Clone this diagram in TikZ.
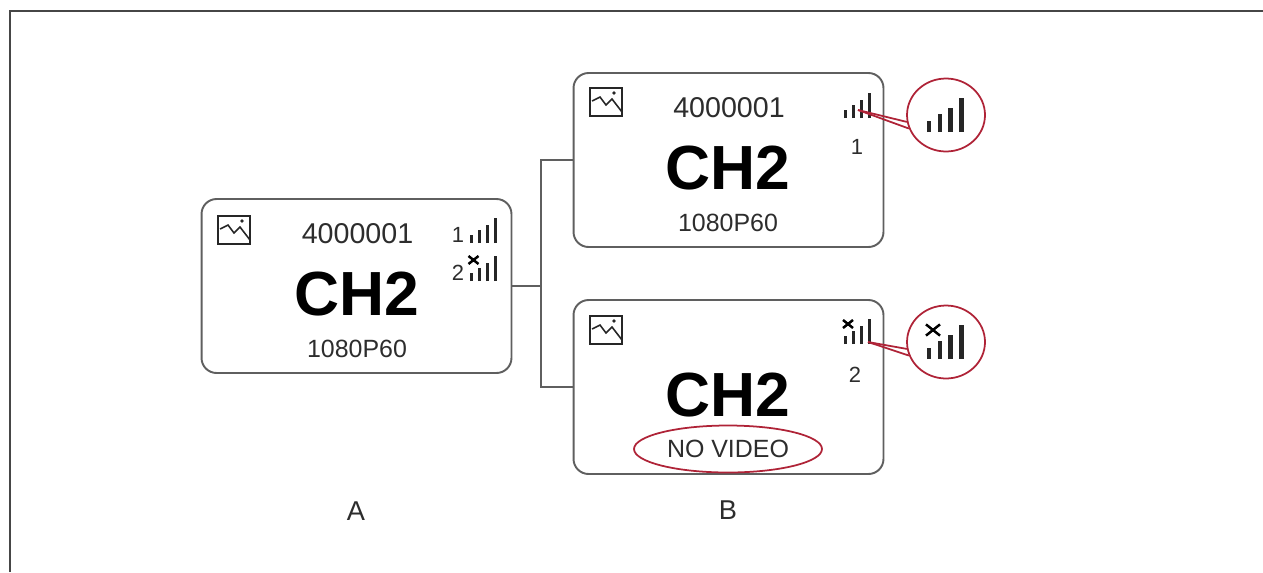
\documentclass[tikz,border=0pt]{standalone}
\usepackage{fontspec}
\setmainfont{Liberation Sans}
\usepackage{xcolor}
\definecolor{framegray}{RGB}{70,70,70}
\definecolor{boxgray}{RGB}{95,95,95}
\definecolor{textgray}{RGB}{45,45,45}
\definecolor{markred}{RGB}{175,35,55}
\usetikzlibrary{shapes.geometric, positioning}

\tikzset{
  pics/imgicon/.style={code={
    \draw[line width=1.3pt, black!85] (0,0) rectangle (32,28);
    \draw[line width=0.9pt, black!85] (2,13) -- (10,9) -- (16,17) -- (22,11) -- (32,24);
    \fill[black!85] (24,5) circle (1.8);
  }},
  pics/signal/.style={code={
    \foreach \xx/\hh in {0/8, 8/13, 16/18, 24/25}
      \draw[black!85] (\xx,0) -- (\xx,-\hh);
  }},
  pics/crossmark/.style={code={
    \draw[black, line width=1.4pt] (-5,-4) -- (5,4) (-5,4) -- (5,-4);
  }}
}

\begin{document}
\begin{tikzpicture}[x=0.02cm, y=-0.02cm,
  chbox/.style={rectangle, draw=boxgray, line width=1.1pt, rounded corners=0.3cm,
                minimum width=6.2cm, minimum height=3.48cm},
  idtxt/.style={inner sep=0pt, font=\fontsize{16.3}{18}\selectfont, text=textgray},
  chtxt/.style={inner sep=0pt, font=\fontsize{35.5}{38}\selectfont\bfseries, text=black},
  restxt/.style={inner sep=0pt, font=\fontsize{14.2}{16}\selectfont, text=textgray},
  numtxt/.style={inner sep=0pt, font=\fontsize{12.5}{14}\selectfont, text=textgray},
  captxt/.style={inner sep=0pt, font=\fontsize{15.5}{18}\selectfont, text=textgray},
  link/.style={draw=boxgray, line width=1.1pt},
  lens/.style={ellipse, draw=markred, line width=1pt, inner sep=0pt,
               minimum width=1.56cm, minimum height=1.46cm},
  ray/.style={draw=markred, line width=1pt}
]
\useasboundingbox (0,0) rectangle (1263,572);
\draw[draw=framegray, line width=1.1pt] (10,572) -- (10,11) -- (1263,11);

% left unit
\node[chbox] (boxa) at (356.5,286) {};
\node[idtxt] (ida) at (357.5,234) {4000001};
\node[chtxt] (cha) at (356.5,294) {CH2};
\node[restxt] (resa) at (357,349) {1080P60};
\node[numtxt] (numa1) at (458,235) {1};
\node[numtxt] (numa2) at (458,273) {2};
\pic at (218,216) {imgicon};
\pic[line width=1.7pt] at (471,243) {signal};
\pic[line width=1.7pt] at (471,281) {signal};
\pic at (473.5,260) {crossmark};

% right units
\node[chbox] (boxb1) at (728.5,160) {};
\node[idtxt] (idb) at (729,108) {4000001};
\node[chtxt] (chb1) at (728,168) {CH2};
\node[restxt] (resb) at (728,223) {1080P60};
\node[numtxt] (numb1) at (857,147) {1};
\pic at (590,88) {imgicon};
\pic[line width=1.7pt] at (845,118) {signal};

\node[chbox] (boxb2) at (728.5,387) {};
\node[chtxt] (chb2) at (728,395) {CH2};
\node[restxt, ellipse, draw=markred, line width=1pt,
      minimum width=3.76cm, minimum height=0.94cm] (novideo) at (728,449) {NO VIDEO};
\node[numtxt] (numb2) at (855,375) {2};
\pic at (590,316) {imgicon};
\pic[line width=1.7pt] at (845,344) {signal};
\pic at (848,324) {crossmark};

% connectors
\coordinate (bus) at (541,286);
\draw[link] (boxa.east) -- (bus);
\draw[link] (boxb1.west) -| (bus) |- (boxb2.west);

% magnified signal
\node[lens] (lens1) at (946,115) {};
\coordinate (tip1) at (858,110);
\draw[ray] (tip1) -- (lens1.190);
\draw[ray] (tip1) -- (lens1.200);
\pic[line width=2.6pt, scale=1.36] at (929,132) {signal};

\node[lens] (lens2) at (946,342) {};
\coordinate (tip2) at (868,342);
\draw[ray] (tip2) -- (lens2.190);
\draw[ray] (tip2) -- (lens2.200);
\pic[line width=2.6pt, scale=1.36] at (929,359) {signal};
\pic[scale=1.4] at (933,330) {crossmark};

\node[captxt] (capa) at (356,511) {A};
\node[captxt] (capb) at (728,510) {B};
\end{tikzpicture}
\end{document}
